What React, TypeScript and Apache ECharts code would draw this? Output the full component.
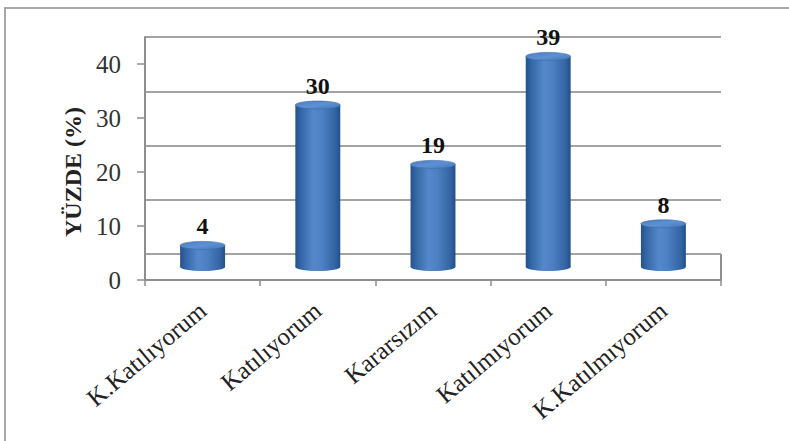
import React, { useEffect, useRef } from "react";
import * as echarts from "echarts";

const categories = ["K.Katılıyorum", "Katılıyorum", "Kararsızım", "Katılmıyorum", "K.Katılmıyorum"];
const values = [4, 30, 19, 39, 8];
const yTicks = [0, 10, 20, 30, 40];
const yAxisName = "YÜZDE (%)";

const FONT = "Liberation Serif";
const AXIS_GRAY = "#8e8e8e";
const GRID_GRAY = "#a3a3a3";

export default function App() {
  const ref = useRef<HTMLDivElement>(null);

  useEffect(() => {
    if (!ref.current) return;
    const chart = echarts.init(ref.current, null, { renderer: "svg" });

    const bodyGrad = () =>
      new echarts.graphic.LinearGradient(0, 0, 1, 0, [
        { offset: 0, color: "#24518a" },
        { offset: 0.12, color: "#3466a6" },
        { offset: 0.4, color: "#5488ca" },
        { offset: 0.6, color: "#4c80c2" },
        { offset: 0.88, color: "#3465a4" },
        { offset: 1, color: "#234f88" },
      ]);
    const topGrad = () =>
      new echarts.graphic.LinearGradient(0, 0, 1, 1, [
        { offset: 0, color: "#4a7dbf" },
        { offset: 0.5, color: "#5d91d4" },
        { offset: 1, color: "#4576b6" },
      ]);

    const option: any = {
      animation: false,
      backgroundColor: "#ffffff",
      textStyle: { fontFamily: FONT },
      grid: [
        { left: 145, right: 68, top: 64, bottom: 161 },
        { left: 145, right: 68, top: 37, bottom: 187 },
        { left: 145, right: 68, top: 51, bottom: 174 },
      ],
      xAxis: [
        {
          type: "category",
          gridIndex: 0,
          data: categories,
          axisLine: { show: true, lineStyle: { color: AXIS_GRAY, width: 2 } },
          axisTick: { show: true, length: 6, lineStyle: { color: AXIS_GRAY, width: 1.5 } },
          axisLabel: {
            interval: 0,
            rotate: 40,
            margin: 27,
            fontSize: 25,
            fontFamily: FONT,
            color: "#222",
          },
          splitLine: { show: false },
        },
        { type: "category", gridIndex: 1, data: categories, show: false },
        { type: "category", gridIndex: 2, data: categories, show: false },
      ],
      yAxis: [
        {
          type: "value",
          gridIndex: 0,
          min: 0,
          max: 40,
          interval: 10,
          axisLine: { show: true, lineStyle: { color: AXIS_GRAY, width: 2 } },
          axisTick: { show: true, length: 8, lineStyle: { color: AXIS_GRAY, width: 1.5 } },
          axisLabel: {
            margin: 24,
            fontSize: 25,
            fontFamily: FONT,
            color: "#333",
            customValues: yTicks,
          },
          splitLine: { show: false },
          name: yAxisName,
          nameLocation: "middle",
          nameGap: 60,
          nameRotate: 90,
          nameTextStyle: { fontSize: 24, fontWeight: "bold", fontFamily: FONT, color: "#222" },
        },
        {
          type: "value",
          gridIndex: 1,
          min: 0,
          max: 40,
          interval: 10,
          axisLine: { show: true, lineStyle: { color: AXIS_GRAY, width: 2 } },
          axisTick: { show: false },
          axisLabel: { show: false },
          splitLine: { show: true, lineStyle: { color: GRID_GRAY, width: 2 } },
        },
        { type: "value", gridIndex: 2, min: 0, max: 40, show: false, splitLine: { show: false } },
      ],
      graphic: [
        {
          type: "rect",
          shape: { x: 5, y: 8, width: 820, height: 460 },
          style: { fill: "none", stroke: "#a8a8a8", lineWidth: 2 },
          silent: true,
          z: -10,
        },
        {
          type: "line",
          shape: { x1: 721, y1: 254, x2: 721, y2: 280 },
          style: { stroke: AXIS_GRAY, lineWidth: 2 },
          silent: true,
        },
      ],
      series: [
        {
          type: "custom",
          xAxisIndex: 2,
          yAxisIndex: 2,
          data: categories.map((c, i) => [i, values[i]]),
          renderItem: (params: any, api: any) => {
            const i = api.value(0);
            const v = api.value(1);
            const top = api.coord([i, v]);
            const base = api.coord([i, 0]);
            const w = api.size([1, 0])[0] * 0.39;
            const rx = w / 2;
            const ry = 4;
            return {
              type: "group",
              children: [
                {
                  type: "ellipse",
                  shape: { cx: base[0], cy: base[1], rx, ry },
                  style: { fill: bodyGrad() },
                },
                {
                  type: "rect",
                  shape: { x: top[0] - rx, y: top[1], width: w, height: base[1] - top[1] },
                  style: { fill: bodyGrad() },
                },
                {
                  type: "ellipse",
                  shape: { cx: top[0], cy: top[1], rx, ry },
                  style: { fill: topGrad(), stroke: "#3a69a8", lineWidth: 0.6 },
                },
                {
                  type: "text",
                  style: {
                    text: String(v),
                    x: top[0],
                    y: top[1] - 19,
                    align: "center",
                    verticalAlign: "middle",
                    fontSize: 24,
                    fontWeight: "bold",
                    fontFamily: FONT,
                    fill: "#111",
                  },
                },
              ],
            };
          },
        },
      ],
    };

    chart.setOption(option);
    return () => chart.dispose();
  }, []);

  return (
    <div
      ref={ref}
      style={{ position: "fixed", left: 0, top: 0, width: 789, height: 441, background: "#fff" }}
    />
  );
}
